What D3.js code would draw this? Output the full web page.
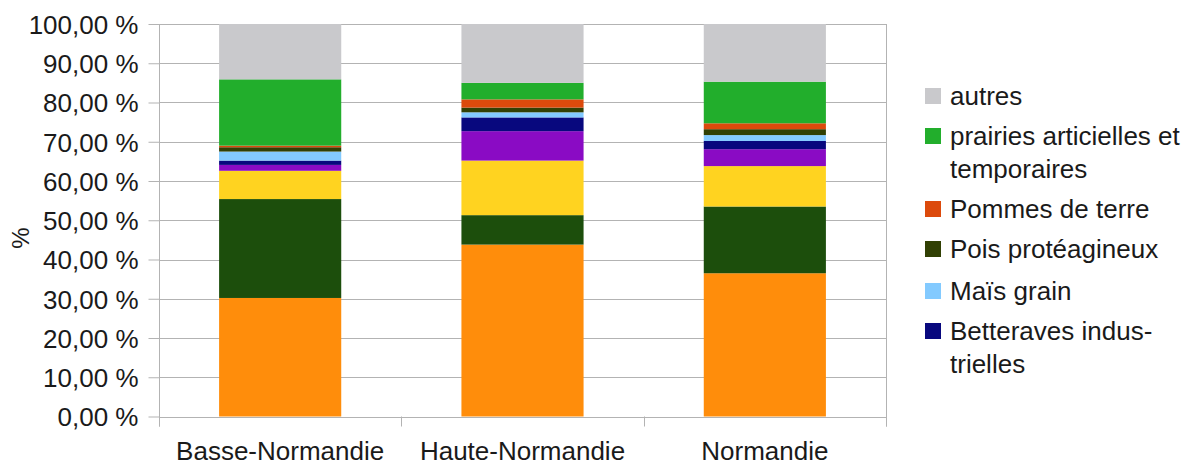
<!DOCTYPE html>
<html>
<head>
<meta charset="utf-8">
<script src="https://cdn.jsdelivr.net/npm/d3@7"></script>
<style>
  body { margin: 0; background: #fff; }
  svg text { font-family: "Liberation Sans", Arial, sans-serif; fill: #1a1a1a; }
</style>
</head>
<body>
<div id="chart"></div>
<script>
// Regions on the x axis
var regions = ["Basse-Normandie", "Haute-Normandie", "Normandie"];

// Series, bottom of the stack first
var seriesNames = [
  "Blé tendre",
  "Maïs fourrage",
  "Colza",
  "Lin textile",
  "Betteraves industrielles",
  "Maïs grain",
  "Pois protéagineux",
  "Pommes de terre",
  "prairies articielles et temporaires",
  "autres"
];

// Share of each series (%), one value per region
var bleTendre = [30.2, 43.8, 36.5];
var maisFourrage = [25.2, 7.5, 17.0];
var colza = [7.2, 13.9, 10.3];
var linTextile = [1.5, 7.5, 4.3];
var betteraves = [1.1, 3.5, 2.1];
var maisGrain = [2.3, 1.3, 1.5];
var pois = [1.1, 1.2, 1.5];
var pommesDeTerre = [0.4, 2.1, 1.5];
var prairies = [16.9, 4.2, 10.6];
var autres = [14.1, 15.0, 14.7];

var seriesValues = [bleTendre, maisFourrage, colza, linTextile, betteraves,
  maisGrain, pois, pommesDeTerre, prairies, autres];

var seriesColors = ["#ff8d0b", "#1c4e0c", "#ffd320", "#8a0bc4", "#08087e",
  "#83caff", "#314004", "#dc4a0c", "#22ae2c", "#c9c9cc"];

// Legend shows only the top six series (as in the reference), wrapped text
var legendItems = [
  { key: "autres", lines: ["autres"] },
  { key: "prairies articielles et temporaires", lines: ["prairies articielles et", "temporaires"] },
  { key: "Pommes de terre", lines: ["Pommes de terre"] },
  { key: "Pois protéagineux", lines: ["Pois protéagineux"] },
  { key: "Maïs grain", lines: ["Maïs grain"] },
  { key: "Betteraves industrielles", lines: ["Betteraves indus-", "trielles"] }
];

var yTicks = [0, 0.1, 0.2, 0.3, 0.4, 0.5, 0.6, 0.7, 0.8, 0.9, 1];

var width = 1192;
var height = 465;
var plotLeft = 159;
var plotRight = 886;
var plotTop = 24;
var plotBottom = 416.5;

var rows = regions.map(function (r, i) {
  var row = { region: r };
  seriesNames.forEach(function (s, j) { row[s] = seriesValues[j][i] / 100; });
  return row;
});

var color = d3.scaleOrdinal().domain(seriesNames).range(seriesColors);

var svg = d3.select("#chart")
  .append("svg")
  .attr("width", width)
  .attr("height", height);

var x = d3.scaleBand()
  .domain(regions)
  .range([plotLeft, plotRight])
  .paddingInner(0.496)
  .paddingOuter(0.248);

var y = d3.scaleLinear().domain([0, 1]).range([plotBottom, plotTop]);

var fr = d3.formatLocale({
  decimal: ",",
  thousands: " ",
  grouping: [3],
  currency: ["", " €"],
  percent: " %"
});
var pct = fr.format(".2%");

// Gridlines
svg.append("g")
  .selectAll("line")
  .data(yTicks)
  .enter()
  .append("line")
  .attr("x1", plotLeft)
  .attr("x2", plotRight)
  .attr("y1", function (d) { return Math.round(y(d)) + 0.5; })
  .attr("y2", function (d) { return Math.round(y(d)) + 0.5; })
  .attr("stroke", "#b3b3b3")
  .attr("stroke-width", 1);

// Right frame line
svg.append("line")
  .attr("x1", plotRight + 0.5)
  .attr("x2", plotRight + 0.5)
  .attr("y1", plotTop)
  .attr("y2", plotBottom + 10)
  .attr("stroke", "#b3b3b3");

// Stacked bars
var stacked = d3.stack().keys(seriesNames)(rows);

svg.append("g")
  .selectAll("g")
  .data(stacked)
  .enter()
  .append("g")
  .attr("fill", function (d) { return color(d.key); })
  .selectAll("rect")
  .data(function (d) { return d; })
  .enter()
  .append("rect")
  .attr("x", function (d) { return x(d.data.region); })
  .attr("width", x.bandwidth())
  .attr("y", function (d) { return y(d[1]); })
  .attr("height", function (d) { return y(d[0]) - y(d[1]); });

// Y axis
var yAxis = svg.append("g")
  .attr("transform", "translate(" + (plotLeft + 0.5) + ",0)")
  .call(d3.axisLeft(y).tickValues(yTicks).tickFormat(pct).tickSize(11).tickPadding(10));

yAxis.select(".domain").attr("stroke", "#b3b3b3").attr("d", "M0," + plotTop + "V" + (plotBottom + 10));
yAxis.selectAll(".tick line").attr("stroke", "#b3b3b3");
yAxis.selectAll(".tick text")
  .style("font-size", "26px")
  .style("font-family", "Liberation Sans, Arial, sans-serif")
  .attr("fill", "#1a1a1a")
  .attr("dy", "0.36em");

// X axis
svg.append("line")
  .attr("x1", plotLeft)
  .attr("x2", plotRight)
  .attr("y1", Math.round(plotBottom) + 0.5)
  .attr("y2", Math.round(plotBottom) + 0.5)
  .attr("stroke", "#b3b3b3");

var boundaries = [plotLeft].concat(regions.map(function (r) {
  return x(r) + x.bandwidth() + x.step() * x.paddingInner() / 2;
}));

svg.append("g")
  .selectAll("line")
  .data(boundaries)
  .enter()
  .append("line")
  .attr("x1", function (d) { return Math.round(d) + 0.5; })
  .attr("x2", function (d) { return Math.round(d) + 0.5; })
  .attr("y1", plotBottom)
  .attr("y2", plotBottom + 10)
  .attr("stroke", "#b3b3b3");

svg.append("g")
  .selectAll("text")
  .data(regions)
  .enter()
  .append("text")
  .attr("x", function (d) { return x(d) + x.bandwidth() / 2; })
  .attr("y", 460)
  .attr("text-anchor", "middle")
  .style("font-size", "26px")
  .text(function (d) { return d; });

// Y axis title
svg.append("text")
  .attr("transform", "translate(29,238) rotate(-90)")
  .attr("text-anchor", "middle")
  .style("font-size", "24px")
  .text("%");

// Legend
var legendY = [105, 145, 218, 258, 300, 340];
var legend = svg.append("g")
  .selectAll("g")
  .data(legendItems)
  .enter()
  .append("g")
  .attr("transform", function (d, i) { return "translate(925," + legendY[i] + ")"; });

legend.append("rect")
  .attr("x", 0)
  .attr("y", -17)
  .attr("width", 16)
  .attr("height", 16)
  .attr("fill", function (d) { return color(d.key); });

legend.append("text")
  .attr("x", 25)
  .attr("y", 0)
  .style("font-size", "26px")
  .selectAll("tspan")
  .data(function (d) { return d.lines; })
  .enter()
  .append("tspan")
  .attr("x", 25)
  .attr("dy", function (d, i) { return i === 0 ? 0 : 33; })
  .text(function (d) { return d; });
</script>
</body>
</html>
